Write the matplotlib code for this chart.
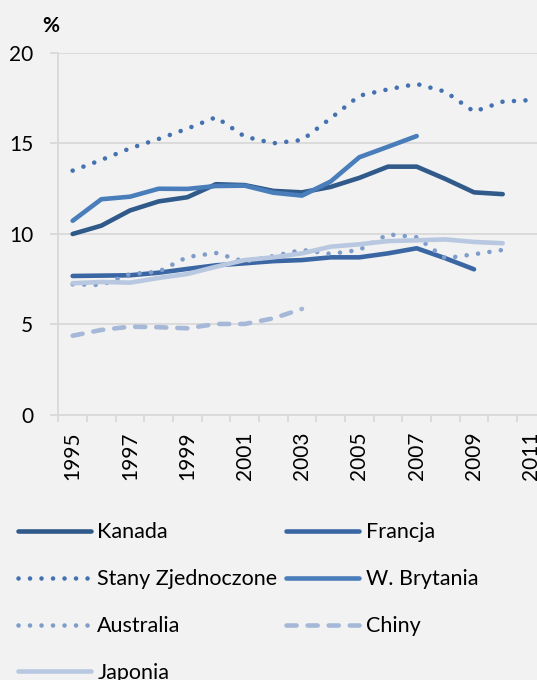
import numpy as np
import matplotlib
matplotlib.use("Agg")
import matplotlib.pyplot as plt
from matplotlib.ticker import FixedLocator

plt.rcParams["font.family"] = ["Lato", "DejaVu Sans"]

years = np.arange(1995, 2012)

kanada = [10.0, 10.46, 11.3, 11.8, 12.03, 12.75, 12.7, 12.38, 12.3, 12.6,
          13.1, 13.72, 13.72, 13.04, 12.3, 12.2]
francja = [7.68, 7.7, 7.72, 7.86, 8.07, 8.27, 8.38, 8.5, 8.56, 8.71,
           8.71, 8.93, 9.21, 8.66, 8.05]
usa = [13.5, 14.09, 14.73, 15.25, 15.82, 16.45, 15.38, 15.01, 15.19, 16.39,
       17.64, 17.99, 18.29, 17.86, 16.76, 17.31, 17.4]
wbrytania = [10.73, 11.92, 12.06, 12.5, 12.49, 12.65, 12.67, 12.28, 12.12,
             12.9, 14.24, 14.82, 15.41]
australia = [7.22, 7.18, 7.79, 7.92, 8.73, 8.95, 8.47, 8.78, 9.12, 8.9,
             9.12, 9.98, 9.82, 8.66, 8.88, 9.12]
chiny = [4.38, 4.7, 4.88, 4.85, 4.79, 5.03, 5.03, 5.34, 5.86]
japonia = [7.28, 7.35, 7.31, 7.57, 7.79, 8.19, 8.56, 8.71, 8.93, 9.3,
           9.43, 9.61, 9.65, 9.7, 9.56, 9.49]

yticks = [0, 5, 10, 15, 20]
label_years = years[::2]

bg = "#F2F2F2"
grid = "#D9D9D9"

fig = plt.figure(figsize=(5.37, 6.8), dpi=100, facecolor=bg)
ax = fig.add_axes([0.1086, 0.3897, 0.9076, 0.5324], facecolor=bg)

lw = 3.3
dot = (0, (0.01, 2.5))
series = [
    ("Kanada", kanada, "#2F5A8A", "-"),
    ("Francja", francja, "#3A67A4", "-"),
    ("Stany Zjednoczone", usa, "#4472B0", dot),
    ("W. Brytania", wbrytania, "#4A7EBB", "-"),
    ("Australia", australia, "#7E9DCB", dot),
    ("Chiny", chiny, "#A6B8D8", (0, (2.2, 2.4))),
    ("Japonia", japonia, "#B9C8E1", "-"),
]
lines = {}
for name, vals, col, ls in series:
    lines[name], = ax.plot(years[:len(vals)], vals, color=col, lw=lw, ls=ls,
                           solid_capstyle="round", dash_capstyle="round", label=name)

ax.set_xlim(1994.5, 2011.5)
ax.set_ylim(0, 20)
ax.set_yticks(yticks)
ax.yaxis.grid(True, color=grid, lw=1.3)
ax.set_axisbelow(True)
for s in ["top", "right"]:
    ax.spines[s].set_visible(False)
for s in ["left", "bottom"]:
    ax.spines[s].set_color(grid)
    ax.spines[s].set_linewidth(1.3)

ax.set_xticks(label_years)
ax.set_xticklabels([str(y) for y in label_years], rotation=90, fontsize=15)
ax.tick_params(axis="x", which="major", length=0, pad=12)
ax.xaxis.set_minor_locator(FixedLocator(np.arange(1994.5, 2012, 1)))
ax.tick_params(axis="x", which="minor", length=5, width=1.3, color=grid)
ax.tick_params(axis="y", length=6, width=1.3, color=grid, labelsize=15, pad=12)

fig.text(0.095, 0.962, "%", fontsize=15, fontweight="bold", ha="center", va="center")

# legend filled column by column: left column then right column
order = ["Kanada", "Stany Zjednoczone", "Australia", "Japonia",
         "Francja", "W. Brytania", "Chiny"]
fig.legend([lines[n] for n in order], order, loc="upper left",
           bbox_to_anchor=(0.033, 0.232), ncol=2, frameon=False,
           fontsize=15.5, handlelength=3.4, handletextpad=0.3, columnspacing=0.4,
           labelspacing=1.25, borderaxespad=0, borderpad=0)

fig.savefig("out.png", dpi=100, facecolor=bg)
